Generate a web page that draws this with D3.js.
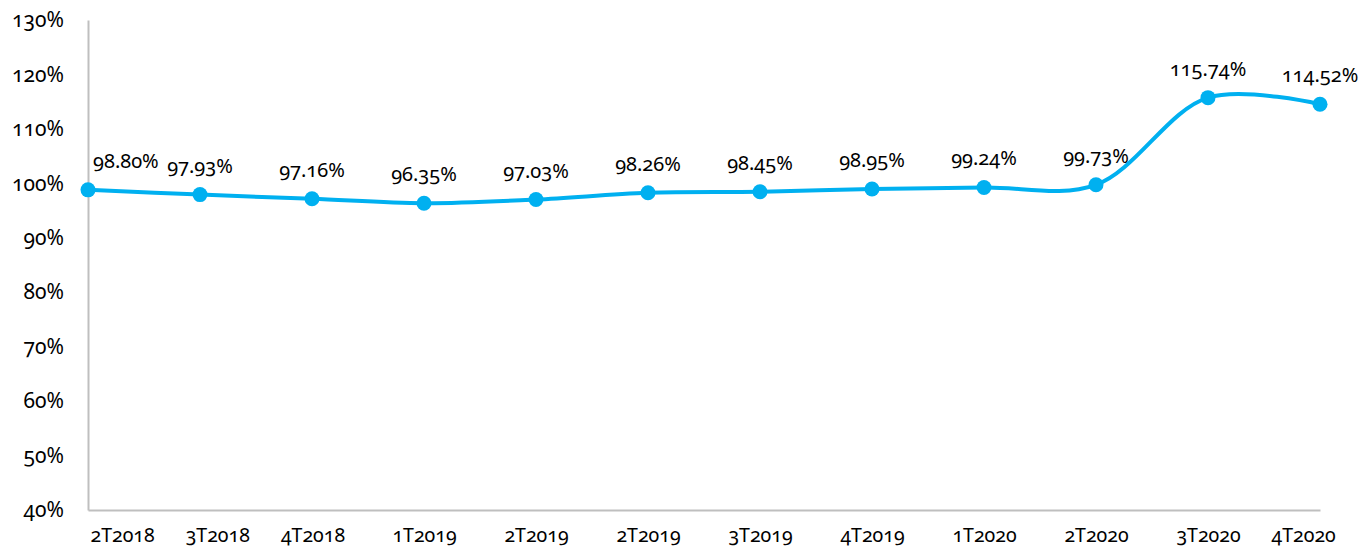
<!DOCTYPE html>
<html>
<head>
<meta charset="utf-8">
<script src="https://cdn.jsdelivr.net/npm/d3@7"></script>
<style>
  html, body { margin: 0; padding: 0; background: #fff; }
  svg text {
    font-family: 'Noto Sans', sans-serif;
    font-variant-numeric: oldstyle-nums;
    font-feature-settings: 'onum' 1;
    fill: #000;
  }
</style>
</head>
<body>
<svg id="chart"></svg>
<script>
const categories = ['2T2018', '3T2018', '4T2018', '1T2019', '2T2019', '2T2019',
  '3T2019', '4T2019', '1T2020', '2T2020', '3T2020', '4T2020'];
const values = [98.80, 97.93, 97.16, 96.35, 97.03, 98.26, 98.45, 98.95, 99.24, 99.73, 115.74, 114.52];
const yTicks = [40, 50, 60, 70, 80, 90, 100, 110, 120, 130];

const width = 1358;
const height = 550;
const margin = { top: 20, right: 38, bottom: 40, left: 88 };
const lineColor = '#00b0f0';
const axisColor = '#bfbfbf';

const svg = d3.select('#chart').attr('width', width).attr('height', height);

const x = d3
  .scalePoint()
  .domain(d3.range(categories.length))
  .range([margin.left, width - margin.right]);
const y = d3
  .scaleLinear()
  .domain([40, 130])
  .range([height - margin.bottom, margin.top]);

// y axis
const yAxis = svg
  .append('g')
  .attr('transform', `translate(${margin.left},0)`)
  .call(d3.axisLeft(y).tickValues(yTicks).tickSize(0).tickPadding(24).tickFormat((d) => d + '%'));
yAxis.select('.domain').attr('stroke', axisColor).attr('stroke-width', 2);
yAxis.selectAll('.tick text').style('font-size', '21px');

// x axis
const xAxis = svg
  .append('g')
  .attr('transform', `translate(0,${height - margin.bottom})`)
  .call(d3.axisBottom(x).tickSize(0).tickPadding(18).tickFormat((i) => categories[i]));
xAxis.select('.domain').attr('stroke', axisColor).attr('stroke-width', 2);
xAxis.selectAll('.tick text').style('font-size', '19.5px');

// spread the category labels so the end ones stay inside the axis
const xLeft = margin.left;
const xRight = width - margin.right;
const tickText = xAxis.selectAll('.tick text').nodes();
const widths = tickText.map((t) => t.getComputedTextLength());
const pos = tickText.map((_, i) => x(i));
const n = pos.length;
pos[0] = Math.max(pos[0], xLeft + widths[0] / 2 + 2);
pos[n - 1] = Math.min(pos[n - 1], xRight - widths[n - 1] / 2 + 2);
for (let i = 1; i < n; i++) pos[i] = Math.max(pos[i], pos[i - 1] + widths[i] + 31);
for (let i = n - 2; i >= 0; i--) pos[i] = Math.min(pos[i], pos[i + 1] - widths[i] - 31);
tickText.forEach((t, i) => d3.select(t).attr('x', pos[i] - x(i)));

// line
const line = d3
  .line()
  .x((_, i) => x(i))
  .y((d) => y(d))
  .curve(d3.curveCatmullRom.alpha(0.5));

svg
  .append('path')
  .datum(values)
  .attr('fill', 'none')
  .attr('stroke', lineColor)
  .attr('stroke-width', 4)
  .attr('d', line);

svg
  .selectAll('circle.pt')
  .data(values)
  .enter()
  .append('circle')
  .attr('class', 'pt')
  .attr('cx', (_, i) => x(i))
  .attr('cy', (d) => y(d))
  .attr('r', 7.5)
  .attr('fill', lineColor);

// data labels
const labels = svg
  .selectAll('text.val')
  .data(values)
  .enter()
  .append('text')
  .attr('class', 'val')
  .attr('x', (_, i) => x(i))
  .attr('y', (d) => y(d) - 22)
  .attr('text-anchor', 'middle')
  .style('font-size', '20px')
  .text((d) => d.toFixed(2) + '%');

labels.each(function (d, i) {
  const w = this.getComputedTextLength();
  if (x(i) - w / 2 < xLeft + 5) d3.select(this).attr('x', xLeft + 5 + w / 2);
});
</script>
</body>
</html>
